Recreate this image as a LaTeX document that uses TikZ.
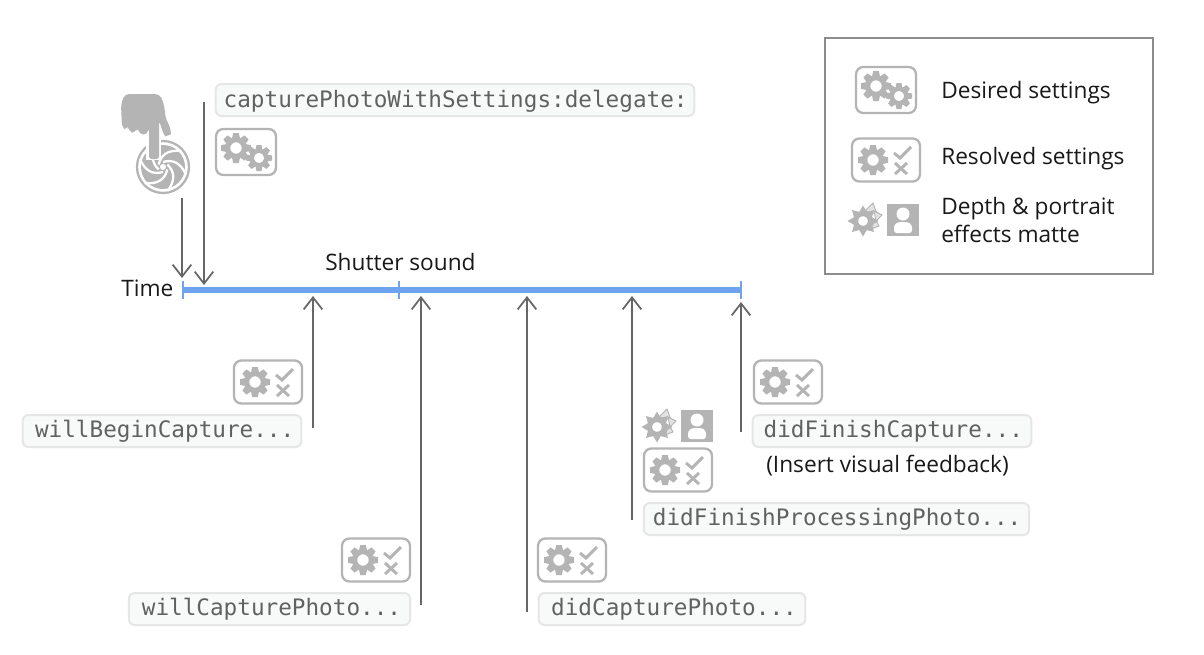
\documentclass[tikz,border=0pt]{standalone}
\usepackage{fontspec}
\setmainfont{Open Sans}
\setmonofont{DejaVu Sans Mono}
\usetikzlibrary{arrows.meta}
\definecolor{icong}{HTML}{B4B4B4}
\definecolor{iconl}{HTML}{E2E2E2}
\definecolor{arrowg}{HTML}{666666}
\definecolor{tl}{HTML}{6EA4EF}
\definecolor{pillf}{HTML}{F8F9F9}
\definecolor{pilld}{HTML}{E6E6E6}
\definecolor{legendc}{HTML}{8C8C8C}
\newcommand{\pshift}[1]{\hspace*{#1pt}}
\tikzset{
 x=0.75pt,y=-0.75pt,
 pillbox/.style={draw=pilld,fill=pillf,rounded corners=4.5pt,line width=1.5pt,minimum height=24pt,inner sep=0pt,font=\ttfamily\fontsize{17}{20}\selectfont,text=black!62},
 label/.style={inner sep=0pt,font=\fontsize{17}{20}\selectfont,text=black!90,anchor=base west},
 connector/.style={draw=arrowg,line width=1.5pt,-{Straight Barb[length=9pt,width=14pt,line width=1.3pt]}},
 iconbox/.style={draw=icong,line width=1.7pt,rounded corners=5.5pt,fill=white},
}
% gear: x, y, outer radius
\newcommand{\geargly}[3]{%
 \begin{scope}[shift={(#1,#2)}]
  \foreach \a in {0,45,...,315}{
   \fill[icong,rotate=\a] (-0.19*#3,-#3)--(0.19*#3,-#3)--(0.27*#3,-0.6*#3)--(-0.27*#3,-0.6*#3)--cycle;}
  \draw[icong,line width=0.33*#3*0.75pt] (0,0) circle[radius=0.55*#3];
 \end{scope}}
\newcommand{\desiredicon}[2]{%
 \begin{scope}[shift={(#1,#2)}]
  \draw[iconbox] (-30,-23) rectangle (30,23);
  \geargly{-10}{-4}{15}
  \geargly{13}{6}{13}
 \end{scope}}
\newcommand{\resolvedicon}[2]{%
 \begin{scope}[shift={(#1,#2)}]
  \draw[iconbox] (-34,-21.5) rectangle (34,21.5);
  \geargly{-13}{0}{15}
  \draw[icong,line width=2.2pt] (8,-7)--(14,-2)--(25,-13);
  \draw[icong,line width=2.2pt] (9,3)--(21,14) (21,3)--(9,14);
 \end{scope}}
\newcommand{\matteicon}[2]{%
 \begin{scope}[shift={(#1,#2)}]
  \draw[icong,fill=iconl,line width=0.7pt,line join=round] (0,-9)--(8,-17)--(12,-6)--cycle;
  \draw[icong,fill=iconl,line width=0.7pt,line join=round] (9,-9)--(17,-5)--(11,1)--cycle;
  \draw[icong,fill=iconl,line width=0.7pt,line join=round] (10,-1)--(14,6)--(6,9)--cycle;
  \begin{scope}[shift={(-2,1)}]
   \foreach \a in {0,45,...,315}{
    \fill[icong,rotate=\a] (0,-15.5)--(5.5,-6)--(-5.5,-6)--cycle;}
   \draw[icong,line width=3.2pt] (0,0) circle[radius=7];
  \end{scope}
  \fill[icong] (22,-16) rectangle (54,16);
  \fill[white] (38,-6) circle[radius=6.5];
  \fill[white,rounded corners=2pt] (29,13) -- (29,5) -- (33,2) -- (43,2) -- (47,5) -- (47,13) -- cycle;
 \end{scope}}
\begin{document}
\begin{tikzpicture}
\useasboundingbox (0,0) rectangle (1204,654);
\fill[white] (0,0) rectangle (1204,654);

% legend
\node[draw=legendc,line width=1.5pt,minimum width=246pt,minimum height=177pt,inner sep=0pt] (legend) at (989,156) {};
\desiredicon{886}{90}
\resolvedicon{886}{160}
\matteicon{865}{220}
\node[label] (t1) at (941,98.5) {Desired settings};
\node[label] (t2) at (941,164.5) {Resolved settings};
\node[label] (t3) at (941,214.5) {Depth \& portrait};
\node[label] (t4) at (941,242) {effects matte};

% shutter
\begin{scope}[shift={(163,167)}]
 \draw[icong,line width=1.7pt] (0,0) circle[radius=26];
 \fill[icong] (0,0) circle[radius=22];
 \foreach \a in {0,60,...,300}{
  \draw[white,line width=1.7pt,rotate=\a] (0,-5) .. controls (10,-8) and (18,-4) .. (23,8);}
 \fill[white] (0,0) circle[radius=3];
\end{scope}
% hand
\fill[white] (146,135) rectangle (161,160);
\fill[icong,rounded corners=3pt] (125,94) -- (159,94) .. controls (164,102) and (165,112) .. (165,116) -- (171,130) .. controls (171,135) and (165,136) .. (163,133)
 -- (159,120) -- (159,153) .. controls (159,160) and (149,160) .. (149,153) -- (149,127) -- (147,135) -- (139,134) -- (138,127) -- (135,133) -- (129,132) -- (128,125) -- (127,130) -- (122,128) -- (121,104) -- cycle;

% timeline
\coordinate (t0) at (183,290);
\coordinate (tend) at (741,290);
\draw[tl,line width=4.2pt] (t0) -- (tend);
\coordinate (ts) at (399,290);
\draw[tl,line width=2pt] (183,281) -- (183,299) (399,281) -- (399,299) (741,281) -- (741,299);
\node[label] (time) at (121,296) {Time};
\node[label] (shutter) at (325,270) {Shutter sound};

% pills
\node[pillbox,minimum width=359pt,text depth=1.5pt] (p0) at (455,100) {\pshift{1}capturePhotoWithSettings:delegate:};
\node[pillbox,minimum width=209pt] (p1) at (162,431) {\pshift{4}\raisebox{-0.7pt}{willBeginCapture...}};
\node[pillbox,minimum width=209pt] (p2) at (892,431) {\pshift{2}\raisebox{-0.7pt}{didFinishCapture...}};
\node[pillbox,minimum width=289pt] (p3) at (836.5,519) {\pshift{1}\raisebox{-0.7pt}{didFinishProcessingPhoto...}};
\node[pillbox,minimum width=211pt] (p4) at (269.5,609) {\pshift{3}\raisebox{-0.7pt}{willCapturePhoto...}};
\node[pillbox,minimum width=200pt] (p5) at (672,609) {\pshift{3}\raisebox{-0.7pt}{didCapturePhoto...}};
\node[label] (ins) at (766,472.5) {(Insert visual feedback)};

% icons
\desiredicon{246}{152}
\resolvedicon{268}{382}
\resolvedicon{788}{382}
\resolvedicon{678}{470}
\resolvedicon{376}{560}
\resolvedicon{572}{560}
\matteicon{659}{426}

% connectors
\coordinate (a1s) at (182,198); \coordinate (a1e) at (182,278);
\coordinate (a2s) at (204,102); \coordinate (a2e) at (204,285);
\coordinate (a3s) at (313,428); \coordinate (a3e) at (313,296);
\coordinate (a4s) at (421,605); \coordinate (a4e) at (421,296);
\coordinate (a5s) at (527,612); \coordinate (a5e) at (527,296);
\coordinate (a6s) at (632,520); \coordinate (a6e) at (632,296);
\coordinate (a7s) at (741,432); \coordinate (a7e) at (741,302);
\foreach \i in {1,...,7}{\draw[connector] (a\i s) -- (a\i e);}
\end{tikzpicture}
\end{document}
